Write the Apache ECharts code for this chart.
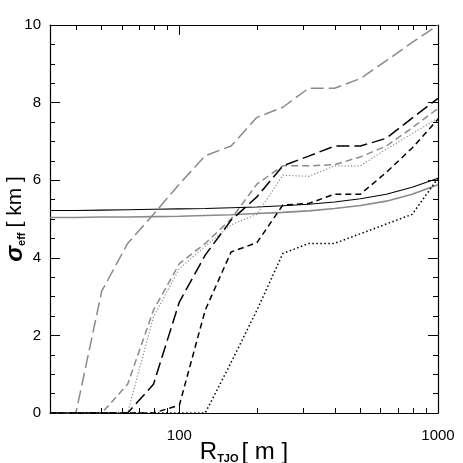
<!DOCTYPE html>
<html><head><meta charset="utf-8">
<script src="https://cdn.jsdelivr.net/npm/echarts@6/dist/echarts.min.js"></script>
<style>html,body{margin:0;padding:0;background:#fff}#c{width:463px;height:463px}</style>
</head><body><div id="c"></div>
<script>
// R_TJO sample positions [m]
var R = [31.62, 39.81, 50.12, 63.10, 79.43, 100, 125.9, 158.5, 199.5, 251.2, 316.2, 398.1, 501.2, 631.0, 794.3, 1000];
var blackSolid     = [5.22, 5.22, 5.23, 5.24, 5.25, 5.26, 5.27, 5.29, 5.31, 5.34, 5.38, 5.44, 5.52, 5.64, 5.82, 6.05];
var graySolid      = [5.04, 5.04, 5.05, 5.05, 5.06, 5.07, 5.09, 5.11, 5.14, 5.17, 5.21, 5.27, 5.35, 5.46, 5.64, 5.88];
var grayLongDash   = [0, 0, 3.14, 4.37, 5.12, 5.9, 6.63, 6.88, 7.62, 7.88, 8.37, 8.37, 8.62, 9.08, 9.55, 10.0];
var grayDash       = [0, 0, 0, 0.74, 2.65, 3.85, 4.37, 5.0, 5.9, 6.37, 6.37, 6.4, 6.6, 6.88, 7.35, 7.85];
var grayDotted     = [0, 0, 0, 0, 2.48, 3.72, 4.3, 4.85, 5.12, 6.13, 6.1, 6.37, 6.37, 6.8, 7.2, 7.6];
var blackLongDash  = [0, 0, 0, 0, 0.74, 2.86, 4.07, 4.97, 5.57, 6.37, 6.62, 6.88, 6.88, 7.08, 7.6, 8.11];
var blackDash      = [0, 0, 0, 0, 0, 0.2, 2.65, 4.15, 4.39, 5.36, 5.4, 5.64, 5.64, 6.2, 6.83, 7.57];
var blackDotted    = [0, 0, 0, 0, 0, 0, 0, 1.3, 2.65, 4.11, 4.37, 4.37, 4.62, 4.87, 5.12, 6.05];

var minorXTicks = [40, 50, 60, 70, 80, 90, 200, 300, 400, 500, 600, 700, 800, 900];
var majorXTicks = [100, 1000];
var xLabels = [100, 1000];

function pairs(ys){ return R.map(function(r,i){ return [r, ys[i]]; }); }
function ln(name, ys, color, type, width){
  return {name:name, type:'line', xAxisIndex:0, yAxisIndex:0, data:pairs(ys), symbol:'none', smooth:false,
    lineStyle:{color:color, type:type, width:width}, silent:true, animation:false};
}
var FONT = 'Liberation Sans';
var baseX = {type:'log', logBase:10, min:31.62, max:1000, gridIndex:0, splitLine:{show:false}, minorSplitLine:{show:false}};
function xax(extra){ return Object.assign({}, baseX, extra); }

var chart = echarts.init(document.getElementById('c'), null, {renderer:'canvas'});
chart.setOption({
  animation:false,
  backgroundColor:'#fff',
  grid:{left:50, right:25, top:25, bottom:50, containLabel:false, outerBoundsMode:'none'},
  xAxis:[
    xax({position:'bottom', axisLine:{show:true, lineStyle:{color:'#000', width:1.2}},
      axisTick:{show:true, inside:true, length:5, customValues:minorXTicks, lineStyle:{color:'#000', width:1}},
      axisLabel:{show:true, customValues:xLabels, margin:15, fontSize:15, fontFamily:FONT, color:'#000',
        formatter:function(v){ return String(Math.round(v)); }},
      name:'{r|R}{s|TJO}{b|[ m ]}', nameLocation:'middle', nameGap:27, nameMoveOverlap:false,
      nameTextStyle:{rich:{
        r:{fontSize:24, fontFamily:FONT, color:'#000'},
        b:{fontSize:24, fontFamily:FONT, color:'#000', padding:[0,0,0,3]},
        s:{fontSize:11, fontFamily:FONT, fontWeight:'bold', color:'#000', verticalAlign:'bottom'}
      }}}),
    xax({position:'bottom', axisLine:{show:false},
      axisTick:{show:true, inside:true, length:10, customValues:majorXTicks, lineStyle:{color:'#000', width:1}},
      axisLabel:{show:false}}),
    xax({position:'top', axisLine:{show:true, lineStyle:{color:'#000', width:1.2}},
      axisTick:{show:true, inside:true, length:5, customValues:minorXTicks, lineStyle:{color:'#000', width:1}},
      axisLabel:{show:false}}),
    xax({position:'top', axisLine:{show:false},
      axisTick:{show:true, inside:true, length:10, customValues:majorXTicks, lineStyle:{color:'#000', width:1}},
      axisLabel:{show:false}})
  ],
  yAxis:[
    {type:'value', position:'left', min:0, max:10, interval:2, splitLine:{show:false},
      axisLine:{show:true, lineStyle:{color:'#000', width:1.2}},
      axisTick:{show:true, inside:true, length:10, lineStyle:{color:'#000', width:1}},
      minorTick:{show:true, splitNumber:4, length:5, lineStyle:{color:'#000', width:1}},
      axisLabel:{fontSize:15, fontFamily:FONT, color:'#000', margin:9},
      name:'{g|σ}{e|eff}{r|[ km ]}', nameLocation:'middle', nameGap:23, nameRotate:90, nameMoveOverlap:false,
      nameTextStyle:{rich:{
        g:{fontSize:24, fontFamily:FONT, fontWeight:'bold', fontStyle:'italic', color:'#000'},
        e:{fontSize:11, fontFamily:FONT, fontWeight:'bold', color:'#000', verticalAlign:'bottom'},
        r:{fontSize:21, fontFamily:FONT, color:'#000', padding:[0,0,0,5]}
      }}},
    {type:'value', position:'right', min:0, max:10, interval:2, splitLine:{show:false},
      axisLine:{show:true, lineStyle:{color:'#000', width:1.2}},
      axisTick:{show:true, inside:true, length:10, lineStyle:{color:'#000', width:1}},
      minorTick:{show:true, splitNumber:4, length:5, lineStyle:{color:'#000', width:1}},
      axisLabel:{show:false}}
  ],
  series:[
    ln('gray solid', graySolid, '#8a8a8a', 'solid', 1.6),
    ln('black solid', blackSolid, '#000', 'solid', 1.1),
    ln('gray long dash', grayLongDash, '#8a8a8a', [13,5], 1.5),
    ln('gray dash', grayDash, '#8a8a8a', [7,4], 1.5),
    ln('gray dotted', grayDotted, '#8a8a8a', [1.2,2], 1.2),
    ln('black long dash', blackLongDash, '#000', [13,5], 1.5),
    ln('black dash', blackDash, '#000', [6,4], 1.5),
    ln('black dotted', blackDotted, '#000', [1.5,2.5], 1.5)
  ]
});
</script></body></html>
